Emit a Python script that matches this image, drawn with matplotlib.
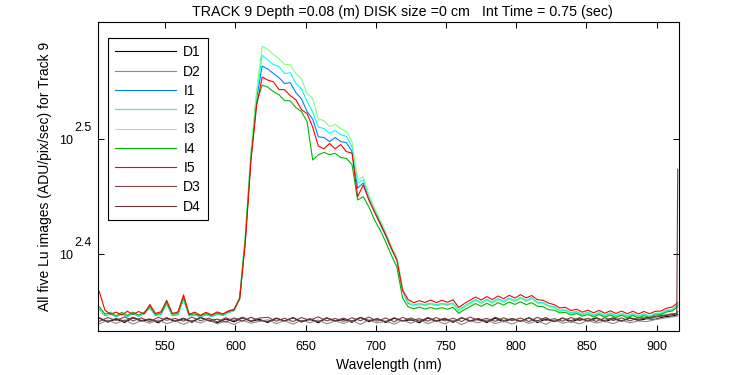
import numpy as np
import matplotlib
matplotlib.use("Agg")
import matplotlib.pyplot as plt
from matplotlib.ticker import NullLocator
from matplotlib.transforms import blended_transform_factory, offset_copy

plt.rcParams['font.family'] = ['Liberation Sans', 'DejaVu Sans']

# wavelength grids (nm)
wl = np.arange(503, 916, 4)
wl_dark = np.append(np.arange(503, 912, 6), [914.3, 915.0])

xticks = [550, 600, 650, 700, 750, 800, 850, 900]
ytick_exp = ['2.4', '2.5']

# lit images I1..I5 (ADU/pix/sec)
i1 = [224.8, 222.0, 222.7, 221.4, 222.8, 221.6, 222.9, 221.7, 222.9, 225.4,
      222.0, 222.6, 227.2, 222.0, 222.4, 229.4, 221.8, 222.3, 221.3, 222.4,
      221.5, 222.6, 222.1, 223.3, 224.2, 230.0, 259.5, 305.5, 343.0, 366.4,
      364.2, 361.0, 357.9, 353.8, 354.4, 347.4, 343.1, 334.4, 329.3, 317.9,
      317.4, 314.8, 317.4, 314.8, 314.2, 308.5, 286.8, 289.7, 280.6, 273.4,
      266.8, 260.5, 253.7, 248.1, 233.6, 227.5, 226.6, 227.1, 226.7, 227.3,
      226.5, 227.2, 226.8, 227.4, 224.2, 226.0, 227.5, 228.9, 227.6, 229.1,
      227.8, 229.4, 228.2, 229.7, 228.5, 230.0, 228.6, 229.8, 227.7, 227.6,
      226.2, 225.7, 224.1, 224.3, 223.0, 223.5, 222.3, 223.2, 222.0, 223.0,
      221.8, 222.9, 221.7, 222.7, 221.6, 222.6, 221.5, 222.5, 221.5, 222.7,
      222.8, 224.1, 224.4, 226.6]
i2 = [225.0, 222.1, 222.8, 221.5, 222.9, 221.7, 223.0, 221.8, 223.0, 225.6,
      222.1, 222.7, 227.4, 222.1, 222.5, 229.6, 221.9, 222.4, 221.4, 222.5,
      221.6, 222.7, 222.2, 223.4, 224.3, 230.2, 260.0, 307.0, 346.0, 374.5,
      370.8, 367.6, 365.9, 361.0, 361.5, 353.8, 350.1, 341.1, 334.0, 324.1,
      323.2, 320.1, 321.9, 319.3, 318.1, 311.6, 289.7, 291.5, 281.8, 274.5,
      267.9, 261.5, 254.2, 248.6, 233.6, 227.8, 226.9, 227.4, 227.0, 227.5,
      226.9, 227.5, 227.1, 227.7, 224.5, 226.3, 227.8, 229.2, 227.9, 229.4,
      228.1, 229.7, 228.5, 230.0, 228.8, 230.3, 228.9, 230.1, 228.0, 227.9,
      226.5, 226.0, 224.4, 224.6, 223.3, 223.8, 222.6, 223.5, 222.3, 223.3,
      222.1, 223.2, 222.0, 223.0, 221.9, 222.9, 221.8, 222.8, 221.8, 223.0,
      223.1, 224.4, 224.7, 226.9]
i3 = [225.3, 222.4, 223.0, 221.6, 223.1, 221.8, 223.2, 221.9, 223.2, 226.0,
      222.3, 222.9, 227.8, 222.4, 222.7, 230.0, 222.1, 222.6, 221.6, 222.7,
      221.8, 222.9, 222.4, 223.6, 224.5, 230.5, 261.0, 309.0, 348.0, 381.3,
      379.0, 375.0, 371.8, 367.6, 367.4, 361.0, 357.2, 346.7, 343.5, 329.4,
      328.4, 324.4, 325.8, 323.1, 321.3, 314.8, 291.5, 293.3, 282.9, 275.6,
      269.0, 262.6, 255.3, 249.6, 234.6, 228.2, 226.4, 226.9, 226.5, 227.1,
      226.4, 227.0, 226.6, 227.2, 224.0, 225.8, 227.3, 228.7, 227.4, 228.9,
      227.6, 229.2, 228.0, 229.5, 228.3, 229.8, 228.4, 229.6, 227.5, 227.4,
      226.0, 225.5, 223.9, 224.1, 222.8, 223.3, 222.1, 223.0, 221.8, 222.8,
      221.6, 222.7, 221.5, 222.5, 221.4, 222.4, 221.3, 222.3, 221.3, 222.5,
      222.6, 223.9, 224.2, 226.4]
i4 = [226.0, 222.7, 223.3, 221.8, 223.4, 222.0, 223.5, 222.1, 223.4, 226.2,
      222.5, 223.1, 228.0, 222.6, 222.9, 230.2, 222.3, 222.8, 221.8, 222.9,
      222.0, 223.1, 222.5, 223.7, 224.5, 229.8, 258.5, 304.0, 340.0, 352.6,
      351.2, 348.1, 345.9, 341.8, 341.7, 337.1, 334.4, 327.7, 303.4, 306.5,
      308.1, 306.7, 307.5, 304.9, 304.4, 300.6, 280.0, 281.8, 276.2, 269.0,
      263.6, 257.3, 250.6, 244.6, 230.0, 225.9, 225.0, 225.8, 224.9, 225.6,
      224.9, 225.5, 224.8, 225.7, 223.0, 224.6, 226.0, 227.4, 226.1, 227.5,
      226.3, 227.8, 226.7, 228.1, 227.0, 228.2, 226.9, 227.8, 226.2, 226.0,
      224.6, 224.4, 223.2, 223.4, 222.2, 222.9, 221.7, 222.4, 221.4, 222.4,
      221.2, 222.2, 221.1, 222.1, 221.0, 222.0, 220.9, 221.9, 221.0, 222.2,
      222.4, 223.6, 224.0, 226.0]
i5 = [233.0, 224.4, 222.6, 223.5, 222.2, 223.9, 222.5, 223.8, 222.7, 227.0,
      222.9, 223.7, 228.9, 222.9, 223.6, 231.4, 222.6, 223.5, 222.1, 223.4,
      222.3, 223.6, 222.7, 224.1, 224.8, 229.5, 257.0, 303.0, 338.0, 358.4,
      356.2, 355.0, 349.5, 349.4, 345.3, 342.4, 335.7, 333.0, 324.1, 312.0,
      310.3, 313.6, 310.3, 313.0, 308.5, 307.7, 281.8, 288.6, 280.0, 273.4,
      267.4, 261.0, 254.2, 248.1, 233.6, 229.2, 227.8, 228.7, 227.9, 229.0,
      227.8, 228.9, 228.0, 229.1, 225.6, 227.4, 228.9, 230.4, 229.0, 230.6,
      229.2, 230.9, 229.6, 231.2, 229.9, 231.5, 230.0, 231.1, 229.2, 228.9,
      227.6, 226.9, 225.4, 225.7, 224.2, 224.8, 223.5, 224.4, 223.2, 224.3,
      223.0, 224.1, 222.9, 224.0, 222.8, 223.9, 222.7, 223.8, 222.8, 223.9,
      224.0, 225.3, 225.8, 227.8]

# dark images D1..D4
d1 = [220.8, 219.1, 220.4, 218.9, 221.0, 219.5, 220.2, 218.8, 220.9, 219.3,
      220.6, 219.0, 221.1, 219.7, 218.8, 220.5, 219.2, 221.0, 219.4, 220.3,
      218.9, 220.7, 219.6, 221.0, 219.1, 220.4, 218.8, 220.9, 219.5, 220.2,
      219.0, 221.1, 219.3, 220.6, 218.9, 220.8, 219.6, 220.1, 218.8, 220.9,
      219.4, 220.5, 219.0, 221.0, 219.7, 220.3, 218.9, 220.8, 219.2, 220.6,
      219.5, 221.0, 218.9, 220.4, 219.3, 220.9, 219.1, 220.5, 219.8, 221.0,
      219.2, 220.6, 219.5, 220.9, 219.8, 220.6, 220.3, 221.4, 221.8,
      222.2, 222.5]
d2 = [218.3, 219.9, 218.5, 220.1, 218.2, 219.7, 218.6, 220.0, 218.4, 219.6,
      218.1, 219.8, 218.7, 220.2, 218.3, 219.5, 218.0, 219.9, 218.6, 219.4,
      220.1, 218.4, 219.7, 218.2, 219.9, 218.8, 220.0, 218.3, 219.6, 218.5,
      219.8, 218.1, 220.0, 218.7, 219.5, 218.2, 219.9, 218.6, 220.1, 218.4,
      219.7, 218.3, 219.9, 218.0, 219.6, 218.8, 220.0, 218.4, 219.5, 218.2,
      219.9, 218.5, 219.7, 218.1, 220.0, 218.6, 219.4, 218.3, 219.8, 218.7,
      219.5, 218.4, 219.9, 218.8, 219.6, 219.3, 220.2, 220.8, 221.4,
      221.7, 222.1]
d3 = [219.4, 221.1, 219.8, 221.4, 219.6, 220.9, 219.3, 221.2, 219.9, 220.7,
      219.5, 221.3, 219.7, 220.8, 219.2, 221.0, 219.8, 221.3, 219.6, 220.9,
      221.2, 219.5, 220.8, 219.3, 221.1, 219.9, 221.4, 219.6, 220.7, 219.4,
      221.0, 219.7, 221.3, 219.5, 220.9, 219.2, 221.2, 219.8, 220.6, 219.5,
      221.1, 219.6, 220.8, 219.3, 221.3, 219.9, 220.7, 219.4, 221.0, 219.7,
      220.9, 219.3, 221.2, 219.8, 220.6, 219.5, 221.1, 219.7, 220.8, 219.4,
      221.0, 219.8, 220.9, 219.6, 221.1, 220.7, 221.6, 222.1, 222.8,
      223.0, 223.8]
d4 = [221.0, 219.3, 220.7, 219.5, 221.2, 219.8, 220.5, 219.2, 221.0, 219.6,
      220.8, 219.4, 221.1, 219.7, 220.4, 219.1, 220.9, 219.5, 221.2, 219.8,
      219.3, 220.9, 219.6, 221.1, 219.4, 220.6, 219.2, 221.0, 219.7, 220.8,
      219.5, 221.2, 219.8, 220.5, 219.3, 221.0, 219.6, 220.9, 219.4, 221.1,
      219.7, 220.8, 219.2, 221.0, 219.5, 220.7, 219.3, 221.2, 219.8, 220.6,
      219.4, 220.9, 219.6, 221.1, 219.3, 220.8, 219.7, 221.0, 219.5, 220.7,
      219.8, 221.0, 219.6, 220.9, 220.2, 221.1, 221.3, 221.9, 222.4,
      222.7, 297.8]

series = [('D1', wl_dark, d1, '#000000'),
          ('D2', wl_dark, d2, '#8c8c8c'),
          ('I1', wl, i1, '#0080ff'),
          ('I2', wl, i2, '#00ffff'),
          ('I3', wl, i3, '#80ff80'),
          ('I4', wl, i4, '#00b800'),
          ('I5', wl, i5, '#ff0000'),
          ('D3', wl_dark, d3, '#804848'),
          ('D4', wl_dark, d4, '#6b3838')]

fig = plt.figure(figsize=(7.5, 3.75), dpi=100)
ax = fig.add_axes([98.3/750, 44/375, 581/750, 309/375])

for name, x, y, c in series:
    ax.plot(x, y, color=c, linewidth=0.8, label=name)

ax.set_yscale('log')
ax.set_xlim(502.3, 916.1)
ax.set_ylim(215.2, 400.3)
ax.set_xticks(xticks)
ax.set_xticklabels([str(t) for t in xticks])
ytick_vals = [10 ** float(e) for e in ytick_exp]
ax.set_yticks(ytick_vals)
ax.set_yticklabels(['', ''])
ax.yaxis.set_minor_locator(NullLocator())
ax.tick_params(direction='in', length=4.3, width=0.75, top=True, right=True,
               labelsize=9, pad=7)
for s in ax.spines.values():
    s.set_linewidth(0.8)

# MATLAB-style "10" with raised exponent of the same size
trans = blended_transform_factory(ax.transAxes, ax.transData)
for v, e in zip(ytick_vals, ytick_exp):
    ax.text(0, v, '10', transform=offset_copy(trans, fig, x=-24.8, y=-1.5, units='dots'),
            ha='right', va='center', fontsize=9)
    ax.text(0, v, e, transform=offset_copy(trans, fig, x=-24.3, y=11, units='dots'),
            ha='left', va='center', fontsize=9)

ax.set_xlabel('Wavelength (nm)', fontsize=10, labelpad=4)
ax.set_ylabel('All five Lu images (ADU/pix/sec) for Track 9', fontsize=10, labelpad=26)
fig.text(402/750, 1 - 12/375,
         'TRACK 9 Depth =0.08 (m) DISK size =0 cm   Int Time = 0.75 (sec)',
         ha='center', va='center', fontsize=10.3)

leg = ax.legend(loc='upper left', bbox_to_anchor=(0.0172, 0.947), borderaxespad=0,
                fontsize=10, handlelength=4.4, handletextpad=0.5, labelspacing=0.38,
                borderpad=0.5, fancybox=False, framealpha=1, edgecolor='black')
leg.get_frame().set_linewidth(0.8)

plt.savefig('out.png', dpi=100)
